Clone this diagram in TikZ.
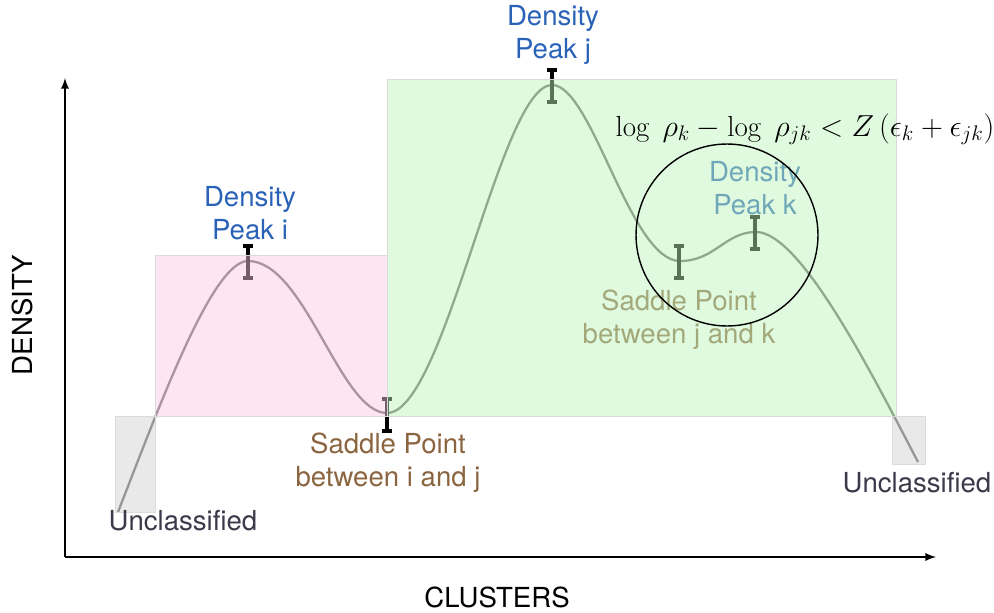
\documentclass[tikz,border=0pt]{standalone}
\usepackage{fontspec}
\setsansfont{TeX Gyre Heros}
\usepackage{amsmath}
\usepackage{tikz}
\usetikzlibrary{shapes,arrows}
\definecolor{peakblue}{RGB}{42,98,184}
\definecolor{saddlebrown}{RGB}{139,101,64}
\definecolor{unclgray}{RGB}{58,58,74}
\definecolor{pinkfill}{RGB}{250,200,225}
\definecolor{greenfill}{RGB}{189,245,187}
\definecolor{grayfill}{RGB}{208,208,208}
\tikzset{every picture/.style={/utils/exec={\sffamily}}}
\usetikzlibrary{shapes,arrows,positioning,calc}

\begin{document}
\begin{tikzpicture}[x=0.02cm, y=-0.02cm, >=latex,
   txt/.style={align=center, font=\fontsize{15.7}{18.7}\selectfont},
   region/.style={draw=black!14, fill opacity=0.47},
   curve/.style={color=black!60, line width=1.3pt},
   ebar/.style={line width=1.8pt},
   axis/.style={->, line width=1.1pt}]

    \useasboundingbox (0,0) rectangle (994,612);

    % density curve
    \draw [curve] (118,512) .. controls (158,410) and (212,261) .. (248,261)
        .. controls (305,261) and (340,413) .. (387,413)
        .. controls (445,413) and (500,85) .. (552,85)
        .. controls (592,85) and (630,261) .. (680,261)
        .. controls (715,261) and (725,232) .. (756,232)
        .. controls (800,232) and (870,370) .. (918,462);

    % error bars
    \def\errbar(#1,#2,#3){\draw[ebar] (#1-5,#2) -- (#1+5,#2) (#1,#2) -- (#1,#3) (#1-5,#3) -- (#1+5,#3);}
    \errbar(248,246,278)
    \errbar(552,70,102)
    \errbar(387,399,431)
    \errbar(679,246,278)
    \errbar(755,217,249)

    % labels under the overlay
    \node [txt, color=peakblue] (peakk) at (755,188) {Density\\Peak k};
    \node [txt, color=saddlebrown] (saddlejk) at (679,320) {Saddle Point\\between j and k};

    % cluster regions
    \fill [region, fill=grayfill] (115,416) rectangle (155,512);
    \fill [region, fill=pinkfill] (155,255) rectangle (387,416);
    \fill [region, fill=greenfill] (387,79) rectangle (896,416);
    \fill [region, fill=grayfill] (892,416) rectangle (925,464);
    \draw [black!14] (115,512) -- (115,416) -- (155,416) -- (155,255) -- (387,255) -- (387,79)
        -- (896,79) -- (896,416) -- (387,416) (155,416) -- (387,416) (892,416) -- (925,416)
        -- (925,464) -- (892,464) -- (892,416);

    \node [circle, draw, thick, minimum size=3.64cm] (nbhd) at (727,235) {};
    \node [font=\fontsize{16.5}{20}\selectfont] (crit) at (805,129)
        {$\log\ \rho_k - \log\ \rho_{jk} < Z\,(\epsilon_k + \epsilon_{jk})$};

    \node [txt, color=peakblue] (peaki) at (250,213) {Density\\Peak i};
    \node [txt, color=peakblue] (peakj) at (553,35) {Density\\Peak j};
    \node [txt, color=saddlebrown] (saddleij) at (388,463) {Saddle Point\\between i and j};
    \node [txt, color=unclgray] (unclleft) at (183,521) {Unclassified};
    \node [txt, color=unclgray] (unclright) at (917,483) {Unclassified};

    % axes
    \coordinate (origin) at (65,557);
    \coordinate (ytop) at (65,78);
    \coordinate (xend) at (936,557);
    \draw [axis] (origin) -- (ytop);
    \draw [axis] (origin) -- (xend);
    \node [txt, rotate=90] (ylab) at (22,315) {DENSITY};
    \node [txt, anchor=base, inner sep=0pt] (xlab) at (497,607) {CLUSTERS};
\end{tikzpicture}
\end{document}
